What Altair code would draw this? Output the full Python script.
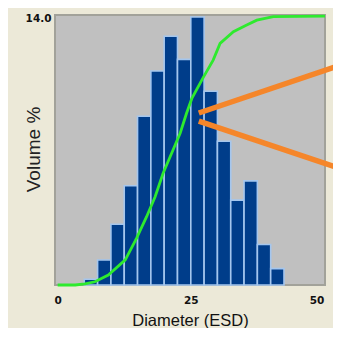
import altair as alt
import pandas as pd

# Histogram bins (Diameter ESD) and volume % per bin
bin_edges = [5.0, 7.5, 10.0, 12.5, 15.0, 17.5, 20.0, 22.5, 25.0, 27.5,
             30.0, 32.5, 35.0, 37.5, 40.0, 42.5]
volume_pct = [0.3, 1.3, 3.15, 5.15, 8.75, 11.1, 12.9, 11.7, 13.9, 10.05,
              7.45, 4.4, 5.4, 2.1, 0.85]

# Cumulative volume curve
cum_diameter = [0.0, 3.3, 5.1, 7.0, 9.5, 12.7, 14.8, 16.7, 18.3, 19.8, 21.4,
                23.0, 24.2, 25.2, 27.4, 29.2, 30.5, 33.0, 35.5, 37.4, 40.5, 50.2]
cum_pct = [0.0, 0.0, 0.4, 1.2, 3.7, 9.3, 17.3, 25.3, 32.7, 41.4, 48.8,
           56.2, 63.6, 69.1, 77.1, 83.3, 89.5, 93.8, 96.3, 98.1, 99.4, 99.6]

# Orange call-out pointing at the curve
callout_x = [26.5, 53.2, 26.5, 53.2]
callout_y = [63.7, 81.5, 60.7, 43.0]
callout_arm = ["upper", "upper", "lower", "lower"]

x_ticks = [0, 25, 50]
y_ticks = [14]

bars_df = pd.DataFrame({"start": bin_edges[:-1], "end": bin_edges[1:], "vol": volume_pct})
cum_df = pd.DataFrame({"start": cum_diameter, "c": cum_pct})
call_df = pd.DataFrame({"start": callout_x, "c": callout_y, "arm": callout_arm})

xscale = alt.Scale(domain=[-0.5, 50.2], nice=False, zero=False)

xaxis = alt.Axis(
    values=x_ticks, format="d", labelFlush=False,
    labelAlign=alt.ExprRef(expr="datum.value >= 50 ? 'right' : 'center'"),
    ticks=False, tickSize=0, domain=False, grid=False,
    labelFont="DejaVu Sans", labelFontWeight="bold", labelFontSize=10.5,
    labelColor="#111111", labelPadding=10,
    title="Diameter (ESD)", titleFont="Liberation Sans", titleFontSize=16.5,
    titleFontWeight="normal", titleColor="#111111",
    titleY=35, titleBaseline="middle",
)

yaxis = alt.Axis(
    values=y_ticks, format=".1f", ticks=False, tickSize=0, domain=False, grid=False,
    labelFont="DejaVu Sans", labelFontWeight="bold", labelFontSize=10.5,
    labelColor="#111111", labelPadding=4, labelBaseline="middle", labelOffset=3,
    title="Volume %", titleFont="Liberation Sans", titleFontSize=19,
    titleFontWeight="normal", titleColor="#222222",
    titleX=-22, titleY=134, titleAngle=270, titleAlign="center", titleBaseline="middle",
)

bars = alt.Chart(bars_df).mark_bar(
    color="#003D8A", stroke="#A4C6EE", strokeWidth=1.6
).encode(
    x=alt.X("start:Q", scale=xscale, axis=xaxis, title="Diameter (ESD)"),
    x2="end:Q",
    y=alt.Y("vol:Q", scale=alt.Scale(domain=[0, 14], nice=False), axis=yaxis),
    y2=alt.datum(0),
)

cum = alt.Chart(cum_df).mark_line(color="#2EEA2E", strokeWidth=2.8).encode(
    x=alt.X("start:Q", scale=xscale, axis=xaxis, title="Diameter (ESD)"),
    y=alt.Y("c:Q", scale=alt.Scale(domain=[0, 100], nice=False), axis=None),
)

callout = alt.Chart(call_df).mark_line(color="#F5862A", strokeWidth=5.5, strokeCap="butt").encode(
    x=alt.X("start:Q", scale=xscale, axis=xaxis, title="Diameter (ESD)"),
    y=alt.Y("c:Q", scale=alt.Scale(domain=[0, 100], nice=False), axis=None),
    detail="arm:N",
)

chart = alt.layer(bars, cum, callout).resolve_scale(y="independent").properties(
    width=270, height=270,
    padding={"left": 47, "top": 7, "right": 8, "bottom": 43},
    autosize=alt.AutoSizeParams(type="none"),
    background="#ECE9D8",
).configure_view(fill="#C0C0C0", stroke="#A2A29A", strokeWidth=2)

chart.save("out.html", embed_options={"renderer": "svg", "actions": False})
